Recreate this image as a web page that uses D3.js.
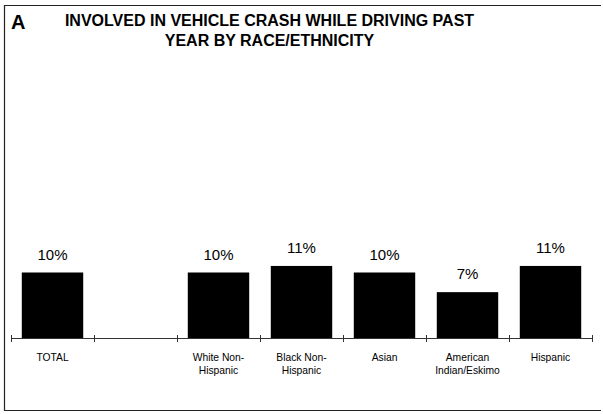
<!DOCTYPE html>
<html>
<head>
<meta charset="utf-8">
<script src="https://cdn.jsdelivr.net/npm/d3@7/dist/d3.min.js"></script>
<style>
  html, body { margin: 0; padding: 0; background: #fff; }
  svg { display: block; font-family: "Liberation Sans", Arial, sans-serif; }
</style>
</head>
<body>
<svg id="chart" width="603" height="414"></svg>
<script>
// Share involved in a vehicle crash while driving in the past year
const categories = ["total", "gap", "white", "black", "asian", "amind", "hispanic"];
const tickLabels = ["TOTAL", "", "White Non-\nHispanic", "Black Non-\nHispanic", "Asian", "American\nIndian/Eskimo", "Hispanic"];
const values = [10, null, 10, 11, 10, 7, 11];
const valueLabels = ["10%", null, "10%", "11%", "10%", "7%", "11%"];

const titleLines = ["INVOLVED IN VEHICLE CRASH WHILE DRIVING PAST", "YEAR BY RACE/ETHNICITY"];
const panelLetter = "A";

const svg = d3.select("#chart");

// Panel frame (open on the right side)
const frame = svg.append("g").attr("stroke", "#222").attr("stroke-width", 1.2).attr("fill", "none");
frame.append("line").attr("x1", 4).attr("x2", 601).attr("y1", 5.5).attr("y2", 5.5);
frame.append("line").attr("x1", 4.5).attr("x2", 4.5).attr("y1", 5).attr("y2", 411);
frame.append("line").attr("x1", 4).attr("x2", 601).attr("y1", 410.5).attr("y2", 410.5);

// Title
svg.append("text")
  .attr("x", 11).attr("y", 28.5)
  .attr("font-size", 20).attr("font-weight", "bold")
  .text(panelLetter);

svg.append("g").selectAll("text").data(titleLines).join("text")
  .attr("x", 269.5)
  .attr("y", (d, i) => 25.5 + i * 20)
  .attr("text-anchor", "middle")
  .attr("font-size", 16).attr("font-weight", "bold")
  .text(d => d);

// Scales
const x = d3.scaleBand().domain(categories).range([11, 592]).paddingInner(0.26).paddingOuter(0.13);
const y = d3.scaleLinear().domain([0, 40]).range([338, 76]);

// Bars
const data = categories.map((c, i) => ({ c, v: values[i], label: valueLabels[i], tick: tickLabels[i] }));
const bars = data.filter(d => d.v != null);

svg.append("g").selectAll("rect").data(bars).join("rect")
  .attr("x", d => x(d.c))
  .attr("width", x.bandwidth())
  .attr("y", d => y(d.v))
  .attr("height", d => y(0) - y(d.v))
  .attr("fill", "#000");

// Value labels
svg.append("g").selectAll("text").data(bars).join("text")
  .attr("x", d => x(d.c) + x.bandwidth() / 2)
  .attr("y", d => y(d.v) - 13)
  .attr("text-anchor", "middle")
  .attr("font-size", 15)
  .text(d => d.label);

// Category axis with ticks between categories
const axisY = y(0);
const x0 = 11;
const axis = svg.append("g").attr("stroke", "#333").attr("stroke-width", 1);
axis.append("line").attr("x1", x0).attr("x2", 592).attr("y1", axisY + 0.5).attr("y2", axisY + 0.5);
const tickXs = d3.range(categories.length + 1).map(i => x0 + i * (581 / categories.length));
axis.selectAll(".tk").data(tickXs).join("line")
  .attr("class", "tk")
  .attr("x1", d => Math.round(d) + 0.5).attr("x2", d => Math.round(d) + 0.5)
  .attr("y1", axisY - 3).attr("y2", axisY + 4);

// Category labels (multi-line)
const lab = svg.append("g").selectAll("text").data(data.filter(d => d.tick)).join("text")
  .attr("text-anchor", "middle")
  .attr("font-size", 10.3)
  .attr("transform", d => `translate(${x(d.c) + x.bandwidth() / 2},${axisY + 23})`);
lab.selectAll("tspan").data(d => d.tick.split("\n")).join("tspan")
  .attr("x", 0)
  .attr("dy", (d, i) => i === 0 ? 0 : 13)
  .text(d => d);
</script>
</body>
</html>
